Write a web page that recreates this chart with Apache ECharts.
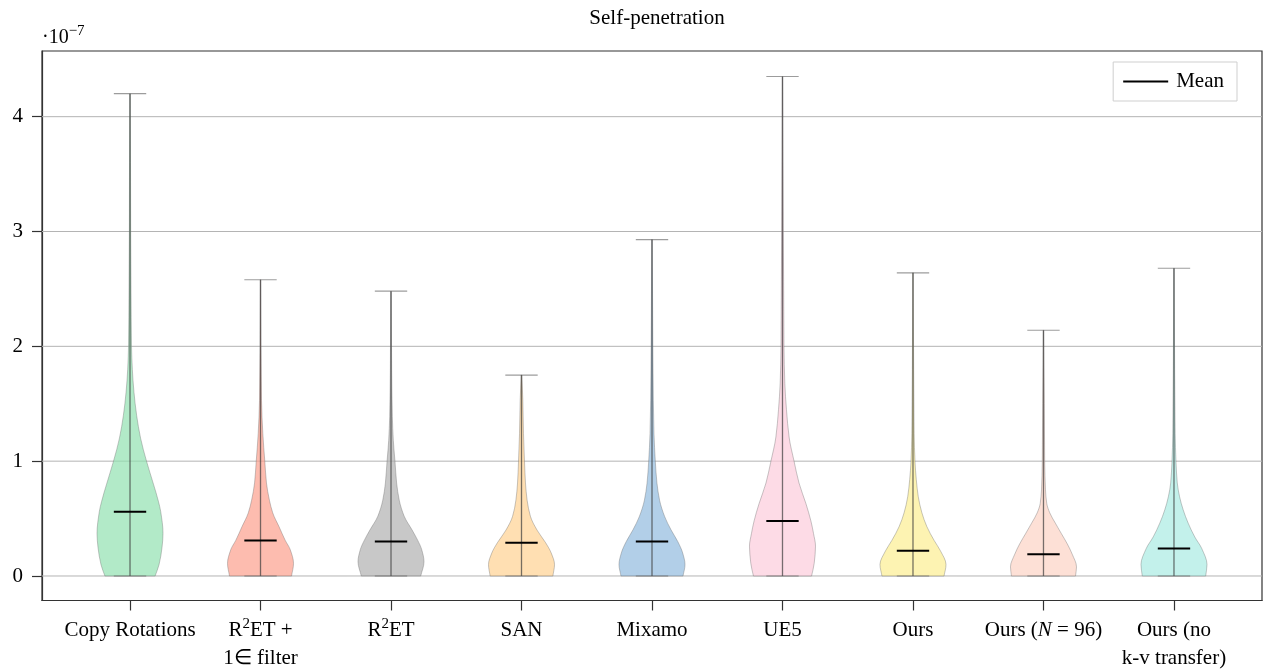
<!DOCTYPE html>
<html><head><meta charset="utf-8">
<script src="https://cdn.jsdelivr.net/npm/echarts@6/dist/echarts.min.js"></script>
<style>html,body{margin:0;padding:0;background:#fff}#c{width:1265px;height:671px}</style>
</head><body><div id="c"></div>
<script>
// ---------- data (values in units of 1e-7) ----------
const tickLabels = [
  'Copy Rotations',
  '{t|R}{s|2}{t|ET +}\n{t|1∈ filter}',
  '{t|R}{s|2}{t|ET}',
  'SAN',
  'Mixamo',
  'UE5',
  'Ours',
  '{t|Ours (}{i|N}{t| = 96)}',
  'Ours (no\nk-v transfer)'
];
const yTicks = [0, 1, 2, 3, 4];
const minValues  = [0, 0, 0, 0, 0, 0, 0, 0, 0];
const maxValues  = [4.20, 2.58, 2.48, 1.75, 2.93, 4.35, 2.64, 2.14, 2.68];
const meanValues = [0.56, 0.31, 0.30, 0.29, 0.30, 0.48, 0.22, 0.19, 0.24];

// relative density profiles: [value, relative half-width]
const densityCopyRotations = [[0,0.76],[0.1,0.88],[0.25,0.97],[0.37,1.0],[0.56,0.93],[0.65,0.86],[0.8,0.71],[1.0,0.5],[1.2,0.32],[1.4,0.2],[1.6,0.12],[1.8,0.07],[2.0,0.045],[2.5,0.03],[3.0,0.02],[3.6,0.015],[4.2,0.005]];
const densityR2ETFilter    = [[0,0.94],[0.11,1.0],[0.23,0.9],[0.31,0.75],[0.43,0.56],[0.55,0.37],[0.66,0.27],[0.81,0.18],[1.0,0.13],[1.24,0.07],[1.53,0.03],[2.0,0.015],[2.58,0.005]];
const densityR2ET          = [[0,0.9],[0.125,1.0],[0.23,0.93],[0.31,0.81],[0.4,0.64],[0.52,0.4],[0.66,0.25],[0.81,0.17],[1.0,0.12],[1.18,0.07],[1.39,0.04],[1.8,0.02],[2.48,0.005]];
const densitySAN           = [[0,0.95],[0.1,1.0],[0.2,0.9],[0.29,0.73],[0.4,0.47],[0.52,0.27],[0.66,0.17],[0.81,0.12],[1.0,0.09],[1.24,0.06],[1.53,0.04],[1.75,0.01]];
const densityMixamo        = [[0,0.94],[0.1,1.0],[0.2,0.93],[0.3,0.78],[0.4,0.58],[0.52,0.38],[0.66,0.23],[0.81,0.15],[1.0,0.1],[1.24,0.06],[1.53,0.04],[2.0,0.025],[2.5,0.015],[2.93,0.005]];
const densityUE5           = [[0,0.88],[0.11,0.96],[0.26,1.0],[0.37,0.94],[0.48,0.86],[0.63,0.71],[0.81,0.5],[1.0,0.35],[1.21,0.2],[1.45,0.12],[1.68,0.07],[2.0,0.045],[2.5,0.035],[3.0,0.025],[3.7,0.015],[4.35,0.005]];
const densityOurs          = [[0,0.94],[0.1,1.0],[0.22,0.83],[0.31,0.64],[0.43,0.42],[0.55,0.27],[0.69,0.16],[0.84,0.1],[1.0,0.06],[1.24,0.035],[1.8,0.02],[2.64,0.005]];
const densityOursN96       = [[0,0.97],[0.08,1.0],[0.19,0.87],[0.28,0.72],[0.37,0.54],[0.46,0.36],[0.55,0.19],[0.63,0.1],[0.75,0.06],[1.0,0.036],[1.5,0.025],[2.14,0.005]];
const densityOursNoKV      = [[0,0.96],[0.1,1.0],[0.24,0.84],[0.34,0.63],[0.46,0.43],[0.575,0.28],[0.69,0.17],[0.81,0.1],[1.0,0.06],[1.24,0.036],[1.8,0.02],[2.68,0.005]];

const densities = [densityCopyRotations, densityR2ETFilter, densityR2ET, densitySAN, densityMixamo,
                   densityUE5, densityOurs, densityOursN96, densityOursNoKV];

// ---------- styles ----------
const fillColors = ['#91e1b0','#fc9f8d','#b0b0b0','#ffd191','#92bade','#fcccdb','#fcee92','#fcd3c4','#a9ebe3'];
const FONT = '"Liberation Serif","Times New Roman",Times,serif';
const XMIN = -0.6745, XMAX = 8.6745, YMIN = -0.2134, YMAX = 4.572;
const HALF = 0.253;  // max half-width of a violin (x units)
const CAP = 0.124;   // half-width of caps / mean lines

function violinPath(i, prof, api) {
  const n = prof.length;
  const vs = prof.map(p => p[0]), ws = prof.map(p => p[1]);
  const m = [];
  for (let k = 0; k < n - 1; k++) m.push((ws[k+1] - ws[k]) / (vs[k+1] - vs[k]));
  const t = new Array(n);
  t[0] = m[0]; t[n-1] = m[n-2];
  for (let k = 1; k < n - 1; k++) {
    if (m[k-1] * m[k] <= 0) { t[k] = 0; }
    else {
      const h0 = vs[k] - vs[k-1], h1 = vs[k+1] - vs[k];
      const w1 = 2*h1 + h0, w2 = h1 + 2*h0;
      t[k] = (w1 + w2) / (w1 / m[k-1] + w2 / m[k]);
    }
  }
  const P = (w, v, s) => api.coord([i + s * Math.max(w, 0) * HALF, v]);
  const f = p => p[0].toFixed(2) + ' ' + p[1].toFixed(2);
  let d = 'M' + f(P(ws[0], vs[0], 1));
  for (let k = 0; k < n - 1; k++) {
    const h = vs[k+1] - vs[k];
    d += 'C' + f(P(ws[k] + t[k]*h/3, vs[k] + h/3, 1)) + ' ' +
               f(P(ws[k+1] - t[k+1]*h/3, vs[k+1] - h/3, 1)) + ' ' +
               f(P(ws[k+1], vs[k+1], 1));
  }
  d += 'L' + f(P(ws[n-1], vs[n-1], -1));
  for (let k = n - 2; k >= 0; k--) {
    const h = vs[k+1] - vs[k];
    d += 'C' + f(P(ws[k+1] - t[k+1]*h/3, vs[k+1] - h/3, -1)) + ' ' +
               f(P(ws[k] + t[k]*h/3, vs[k] + h/3, -1)) + ' ' +
               f(P(ws[k], vs[k], -1));
  }
  return d + 'Z';
}

const chart = echarts.init(document.getElementById('c'), null, {renderer: 'canvas'});

const richText = {
  t: {fontFamily: FONT, fontSize: 21, color: '#000', align: 'center', verticalAlign: 'middle', lineHeight: 28},
  s: {fontFamily: FONT, fontSize: 15, color: '#000', align: 'center', verticalAlign: 'top', lineHeight: 13},
  i: {fontFamily: FONT, fontSize: 21, color: '#000', align: 'center', verticalAlign: 'middle', lineHeight: 28, fontStyle: 'italic'}
};

chart.setOption({
  animation: false,
  backgroundColor: '#fff',
  title: {
    text: 'Self-penetration', left: 652, top: 3, textAlign: 'center',
    textStyle: {fontFamily: FONT, fontWeight: 'normal', fontSize: 21, color: '#000'}
  },
  graphic: [{
    type: 'text', left: 42, top: 24,
    style: {
      text: '{a|·10}{b|−7}',
      rich: {
        a: {fontFamily: FONT, fontSize: 20, color: '#000', verticalAlign: 'bottom', lineHeight: 24},
        b: {fontFamily: FONT, fontSize: 15, color: '#000', verticalAlign: 'top', lineHeight: 12}
      }
    }
  }],
  legend: {
    data: [{name: 'Mean', icon: 'rect'}],
    right: 28, top: 62,
    itemWidth: 45, itemHeight: 2,
    padding: [9, 13, 9, 10],
    borderColor: '#cfcfcf', borderWidth: 1, backgroundColor: '#fff',
    selectedMode: false,
    textStyle: {fontFamily: FONT, fontSize: 21, color: '#000', padding: [0, 0, 0, 3]}
  },
  grid: {left: 42, right: 3, top: 51, bottom: 70.5, show: true, borderColor: '#333', borderWidth: 1.2,
         containLabel: false, outerBoundsMode: 'none'},
  xAxis: {
    type: 'value', min: XMIN, max: XMAX,
    axisLine: {show: true, onZero: false, lineStyle: {color: '#333', width: 1.2}},
    axisTick: {show: true, inside: false, length: 10, customValues: tickLabels.map((_, i) => i),
               lineStyle: {color: '#333', width: 1.2}},
    axisLabel: {
      customValues: tickLabels.map((_, i) => i),
      formatter: v => tickLabels[Math.round(v)],
      margin: 16, fontFamily: FONT, fontSize: 21, color: '#000', lineHeight: 28,
      rich: richText
    },
    splitLine: {show: false}
  },
  yAxis: {
    type: 'value', min: YMIN, max: YMAX,
    axisLine: {show: true, onZero: false, lineStyle: {color: '#333', width: 1.2}},
    axisTick: {show: true, inside: false, length: 10, customValues: yTicks, lineStyle: {color: '#333', width: 1.2}},
    axisLabel: {customValues: yTicks, formatter: v => String(Math.round(v)), margin: 19,
                fontFamily: FONT, fontSize: 21, color: '#000'},
    splitLine: {show: false}
  },
  series: [
    {
      name: 'grid', type: 'custom', z: 1, silent: true,
      data: yTicks.map(v => [v]),
      encode: {y: 0},
      renderItem: (params, api) => {
        const v = api.value(0);
        const a = api.coord([XMIN, v]), b = api.coord([XMAX, v]);
        return {type: 'line', shape: {x1: a[0], y1: a[1], x2: b[0], y2: b[1]},
                style: {stroke: '#b4b4b4', lineWidth: 1}};
      }
    },
    {
      name: 'violins', type: 'custom', z: 2, silent: true, clip: true,
      data: maxValues.map((m, i) => [i, m, minValues[i]]),
      encode: {x: 0, y: [1, 2]},
      renderItem: (params, api) => {
        const i = api.value(0), vmax = api.value(1), vmin = api.value(2);
        const top = api.coord([i, vmax]), bot = api.coord([i, vmin]);
        const capL = api.coord([i - CAP, vmax]), capR = api.coord([i + CAP, vmax]);
        const bL = api.coord([i - CAP, vmin]), bR = api.coord([i + CAP, vmin]);
        return {type: 'group', children: [
          {type: 'path', shape: {pathData: violinPath(i, densities[i], api)},
           style: {fill: fillColors[i], opacity: 0.7, stroke: 'rgba(110,110,110,0.55)', lineWidth: 1}},
          {type: 'line', shape: {x1: bot[0], y1: bot[1], x2: top[0], y2: top[1]},
           style: {stroke: 'rgba(60,60,60,0.7)', lineWidth: 1.3}},
          {type: 'line', shape: {x1: capL[0], y1: capL[1], x2: capR[0], y2: capR[1]},
           style: {stroke: 'rgba(90,90,90,0.6)', lineWidth: 1.2}},
          {type: 'line', shape: {x1: bL[0], y1: bL[1], x2: bR[0], y2: bR[1]},
           style: {stroke: 'rgba(90,90,90,0.6)', lineWidth: 1.2}}
        ]};
      }
    },
    {
      name: 'Mean', type: 'custom', z: 3, silent: true,
      itemStyle: {color: '#000'},
      data: meanValues.map((m, i) => [i, m]),
      encode: {x: 0, y: 1},
      renderItem: (params, api) => {
        const i = api.value(0), m = api.value(1);
        const a = api.coord([i - CAP, m]), b = api.coord([i + CAP, m]);
        return {type: 'line', shape: {x1: a[0], y1: a[1], x2: b[0], y2: b[1]},
                style: {stroke: '#000', lineWidth: 2}};
      }
    }
  ]
});
</script>
</body></html>
